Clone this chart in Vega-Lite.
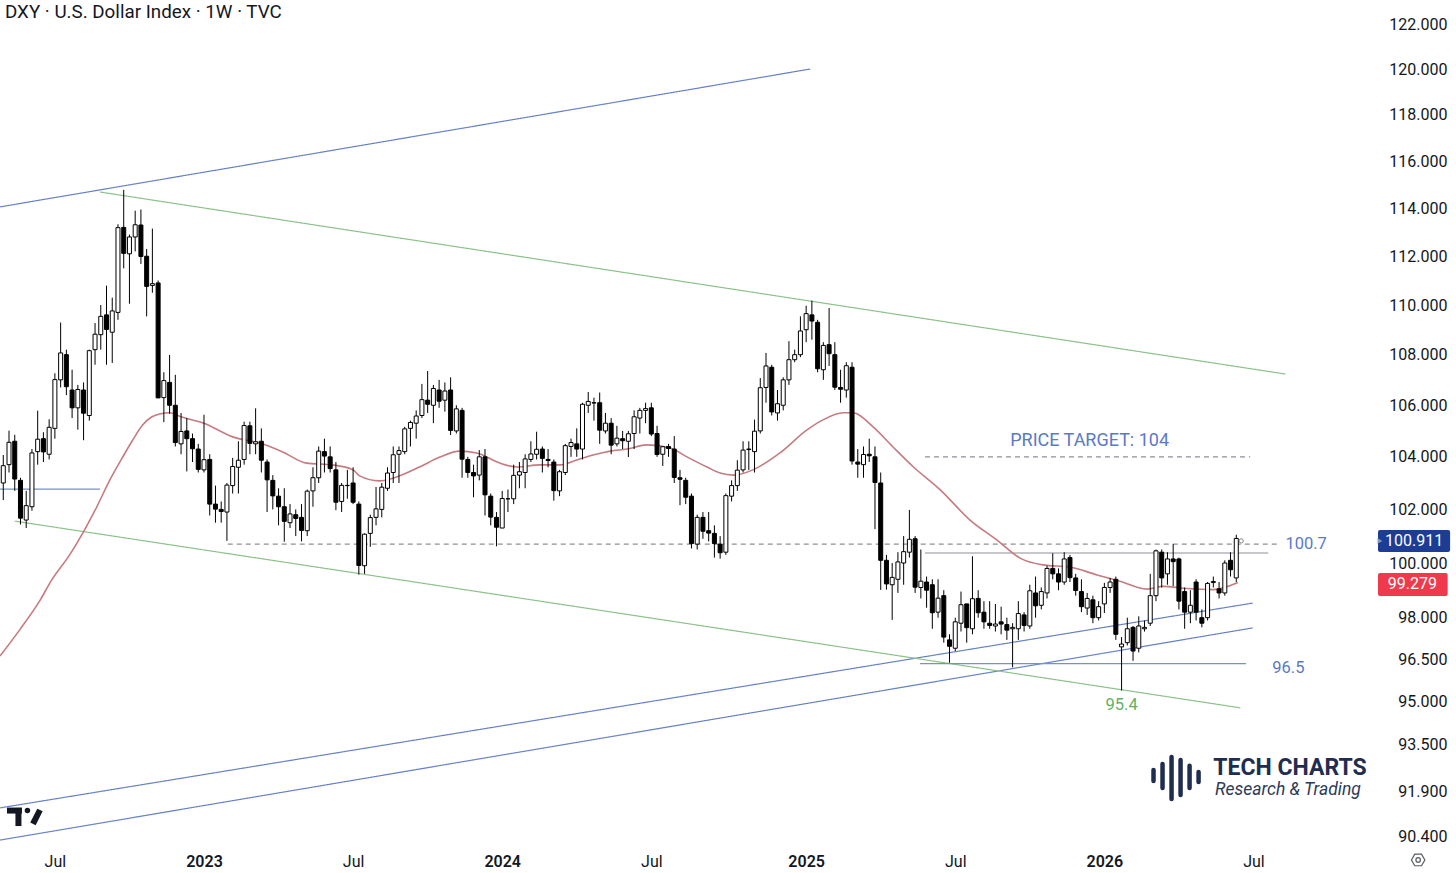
{
  "$schema": "https://vega.github.io/schema/vega-lite/v6.json",
  "width": 1378,
  "height": 847,
  "autosize": {"type": "none"},
  "padding": {"left": 0, "top": 0, "right": 78, "bottom": 26},
  "background": "#ffffff",
  "config": {"view": {"stroke": null}, "font": "Roboto"},
  "datasets": {
    "candles": [
      {"d":"2022-05-02","o":103.0,"h":104.07,"l":102.35,"c":103.66},
      {"d":"2022-05-09","o":103.7,"h":105.01,"l":103.4,"c":104.56},
      {"d":"2022-05-16","o":104.6,"h":104.85,"l":102.7,"c":103.15},
      {"d":"2022-05-23","o":103.1,"h":103.2,"l":101.43,"c":101.67},
      {"d":"2022-05-30","o":101.6,"h":102.7,"l":101.3,"c":102.14},
      {"d":"2022-06-06","o":102.1,"h":104.3,"l":101.95,"c":104.15},
      {"d":"2022-06-13","o":104.2,"h":105.79,"l":103.7,"c":104.68},
      {"d":"2022-06-20","o":104.7,"h":104.95,"l":103.8,"c":104.19},
      {"d":"2022-06-27","o":104.1,"h":105.45,"l":103.9,"c":105.14},
      {"d":"2022-07-04","o":105.1,"h":107.26,"l":104.7,"c":107.01},
      {"d":"2022-07-11","o":107.0,"h":109.29,"l":106.7,"c":108.07},
      {"d":"2022-07-18","o":108.0,"h":108.2,"l":106.4,"c":106.73},
      {"d":"2022-07-25","o":106.6,"h":107.4,"l":105.5,"c":105.9},
      {"d":"2022-08-01","o":105.9,"h":106.8,"l":105.05,"c":106.62},
      {"d":"2022-08-08","o":106.6,"h":106.9,"l":104.64,"c":105.69},
      {"d":"2022-08-15","o":105.6,"h":108.2,"l":105.4,"c":108.16},
      {"d":"2022-08-22","o":108.2,"h":109.27,"l":107.6,"c":108.82},
      {"d":"2022-08-29","o":108.8,"h":110.0,"l":108.2,"c":109.54},
      {"d":"2022-09-05","o":109.6,"h":110.79,"l":107.6,"c":109.01},
      {"d":"2022-09-12","o":108.9,"h":110.3,"l":107.67,"c":109.76},
      {"d":"2022-09-19","o":109.7,"h":113.33,"l":109.4,"c":113.19},
      {"d":"2022-09-26","o":113.2,"h":114.78,"l":111.5,"c":112.12},
      {"d":"2022-10-03","o":112.1,"h":112.9,"l":110.05,"c":112.8},
      {"d":"2022-10-10","o":112.8,"h":113.9,"l":112.2,"c":113.31},
      {"d":"2022-10-17","o":113.3,"h":113.95,"l":111.68,"c":111.99},
      {"d":"2022-10-24","o":112.0,"h":112.3,"l":109.54,"c":110.76},
      {"d":"2022-10-31","o":110.8,"h":113.15,"l":110.5,"c":110.87},
      {"d":"2022-11-07","o":110.9,"h":111.0,"l":106.28,"c":106.29},
      {"d":"2022-11-14","o":106.3,"h":107.3,"l":105.34,"c":106.97},
      {"d":"2022-11-21","o":106.9,"h":107.99,"l":105.67,"c":106.0},
      {"d":"2022-11-28","o":106.0,"h":107.2,"l":104.4,"c":104.55},
      {"d":"2022-12-05","o":104.5,"h":105.7,"l":104.1,"c":104.98},
      {"d":"2022-12-12","o":105.0,"h":105.5,"l":103.44,"c":104.7},
      {"d":"2022-12-19","o":104.7,"h":104.9,"l":103.8,"c":104.31},
      {"d":"2022-12-26","o":104.3,"h":104.5,"l":103.4,"c":103.52},
      {"d":"2023-01-02","o":103.5,"h":105.63,"l":103.4,"c":103.89},
      {"d":"2023-01-09","o":103.9,"h":104.1,"l":101.77,"c":102.2},
      {"d":"2023-01-16","o":102.2,"h":102.9,"l":101.5,"c":102.01},
      {"d":"2023-01-23","o":102.0,"h":102.3,"l":101.5,"c":101.92},
      {"d":"2023-01-30","o":101.9,"h":103.0,"l":100.82,"c":102.92},
      {"d":"2023-02-06","o":102.9,"h":103.96,"l":102.6,"c":103.63},
      {"d":"2023-02-13","o":103.6,"h":104.6,"l":102.6,"c":103.87},
      {"d":"2023-02-20","o":103.9,"h":105.36,"l":103.7,"c":105.21},
      {"d":"2023-02-27","o":105.2,"h":105.36,"l":104.1,"c":104.52},
      {"d":"2023-03-06","o":104.5,"h":105.88,"l":104.1,"c":104.58},
      {"d":"2023-03-13","o":104.6,"h":105.1,"l":103.4,"c":103.87},
      {"d":"2023-03-20","o":103.8,"h":103.9,"l":101.9,"c":103.12},
      {"d":"2023-03-27","o":103.1,"h":103.3,"l":102.0,"c":102.51},
      {"d":"2023-04-03","o":102.5,"h":102.8,"l":101.4,"c":102.1},
      {"d":"2023-04-10","o":102.1,"h":102.8,"l":100.79,"c":101.55},
      {"d":"2023-04-17","o":101.5,"h":102.2,"l":101.3,"c":101.83},
      {"d":"2023-04-24","o":101.8,"h":102.0,"l":101.0,"c":101.66},
      {"d":"2023-05-01","o":101.7,"h":102.2,"l":100.8,"c":101.21},
      {"d":"2023-05-08","o":101.2,"h":102.75,"l":101.0,"c":102.69},
      {"d":"2023-05-15","o":102.7,"h":103.6,"l":102.1,"c":103.2},
      {"d":"2023-05-22","o":103.2,"h":104.4,"l":103.0,"c":104.22},
      {"d":"2023-05-29","o":104.2,"h":104.7,"l":103.4,"c":104.03},
      {"d":"2023-06-05","o":104.0,"h":104.4,"l":103.4,"c":103.55},
      {"d":"2023-06-12","o":103.5,"h":103.8,"l":101.97,"c":102.27},
      {"d":"2023-06-19","o":102.3,"h":103.0,"l":101.9,"c":102.91},
      {"d":"2023-06-26","o":102.9,"h":103.5,"l":102.4,"c":102.91},
      {"d":"2023-07-03","o":103.0,"h":103.6,"l":102.2,"c":102.27},
      {"d":"2023-07-10","o":102.2,"h":102.3,"l":99.57,"c":99.91},
      {"d":"2023-07-17","o":99.9,"h":101.1,"l":99.6,"c":101.07},
      {"d":"2023-07-24","o":101.1,"h":101.8,"l":100.6,"c":101.69},
      {"d":"2023-07-31","o":101.7,"h":102.85,"l":101.4,"c":102.02},
      {"d":"2023-08-07","o":102.0,"h":103.0,"l":101.7,"c":102.84},
      {"d":"2023-08-14","o":102.8,"h":103.6,"l":102.7,"c":103.38},
      {"d":"2023-08-21","o":103.4,"h":104.4,"l":103.0,"c":104.08},
      {"d":"2023-08-28","o":104.1,"h":104.4,"l":103.0,"c":104.24},
      {"d":"2023-09-04","o":104.2,"h":105.16,"l":104.1,"c":105.08},
      {"d":"2023-09-11","o":105.1,"h":105.4,"l":104.4,"c":105.33},
      {"d":"2023-09-18","o":105.3,"h":105.8,"l":104.7,"c":105.58},
      {"d":"2023-09-25","o":105.6,"h":106.84,"l":105.5,"c":106.22},
      {"d":"2023-10-02","o":106.2,"h":107.35,"l":105.7,"c":106.04},
      {"d":"2023-10-09","o":106.0,"h":106.8,"l":105.3,"c":106.66},
      {"d":"2023-10-16","o":106.6,"h":107.0,"l":105.9,"c":106.16},
      {"d":"2023-10-23","o":106.2,"h":106.9,"l":105.75,"c":106.56},
      {"d":"2023-10-30","o":106.6,"h":107.1,"l":104.84,"c":105.02},
      {"d":"2023-11-06","o":105.0,"h":106.0,"l":104.9,"c":105.86},
      {"d":"2023-11-13","o":105.8,"h":105.9,"l":103.2,"c":103.91},
      {"d":"2023-11-20","o":103.9,"h":104.0,"l":103.2,"c":103.4},
      {"d":"2023-11-27","o":103.4,"h":103.7,"l":102.46,"c":103.27},
      {"d":"2023-12-04","o":103.3,"h":104.26,"l":103.1,"c":104.0},
      {"d":"2023-12-11","o":104.0,"h":104.3,"l":101.77,"c":102.55},
      {"d":"2023-12-18","o":102.5,"h":102.6,"l":101.4,"c":101.71},
      {"d":"2023-12-25","o":101.7,"h":101.9,"l":100.62,"c":101.33},
      {"d":"2024-01-01","o":101.3,"h":102.7,"l":101.3,"c":102.41},
      {"d":"2024-01-08","o":102.4,"h":102.75,"l":101.9,"c":102.4},
      {"d":"2024-01-15","o":102.4,"h":103.7,"l":102.2,"c":103.29},
      {"d":"2024-01-22","o":103.3,"h":103.8,"l":102.8,"c":103.43},
      {"d":"2024-01-29","o":103.4,"h":104.1,"l":102.8,"c":103.92},
      {"d":"2024-02-05","o":103.9,"h":104.6,"l":103.8,"c":104.11},
      {"d":"2024-02-12","o":104.1,"h":104.97,"l":103.9,"c":104.29},
      {"d":"2024-02-19","o":104.3,"h":104.4,"l":103.4,"c":103.94},
      {"d":"2024-02-26","o":103.9,"h":104.3,"l":103.6,"c":103.86},
      {"d":"2024-03-04","o":103.8,"h":103.9,"l":102.33,"c":102.71},
      {"d":"2024-03-11","o":102.7,"h":103.5,"l":102.5,"c":103.43},
      {"d":"2024-03-18","o":103.4,"h":104.5,"l":103.3,"c":104.43},
      {"d":"2024-03-25","o":104.4,"h":104.7,"l":104.0,"c":104.55},
      {"d":"2024-04-01","o":104.5,"h":105.1,"l":104.0,"c":104.3},
      {"d":"2024-04-08","o":104.3,"h":106.1,"l":103.9,"c":106.04},
      {"d":"2024-04-15","o":106.0,"h":106.52,"l":105.7,"c":106.15},
      {"d":"2024-04-22","o":106.1,"h":106.3,"l":105.4,"c":106.09},
      {"d":"2024-04-29","o":106.1,"h":106.5,"l":104.5,"c":105.03},
      {"d":"2024-05-06","o":105.0,"h":105.7,"l":104.9,"c":105.3},
      {"d":"2024-05-13","o":105.3,"h":105.5,"l":104.1,"c":104.45},
      {"d":"2024-05-20","o":104.5,"h":105.2,"l":104.4,"c":104.72},
      {"d":"2024-05-27","o":104.7,"h":105.0,"l":104.3,"c":104.62},
      {"d":"2024-06-03","o":104.6,"h":105.0,"l":103.99,"c":104.89},
      {"d":"2024-06-10","o":104.9,"h":105.8,"l":104.3,"c":105.55},
      {"d":"2024-06-17","o":105.5,"h":105.9,"l":104.9,"c":105.8},
      {"d":"2024-06-24","o":105.8,"h":106.1,"l":105.3,"c":105.87},
      {"d":"2024-07-01","o":105.9,"h":106.1,"l":104.8,"c":104.88},
      {"d":"2024-07-08","o":104.9,"h":105.2,"l":104.0,"c":104.09},
      {"d":"2024-07-15","o":104.1,"h":104.4,"l":103.65,"c":104.39},
      {"d":"2024-07-22","o":104.4,"h":104.5,"l":104.0,"c":104.32},
      {"d":"2024-07-29","o":104.3,"h":104.8,"l":103.0,"c":103.21},
      {"d":"2024-08-05","o":103.2,"h":103.5,"l":102.16,"c":103.14},
      {"d":"2024-08-12","o":103.1,"h":103.2,"l":102.2,"c":102.46},
      {"d":"2024-08-19","o":102.5,"h":102.6,"l":100.54,"c":100.72},
      {"d":"2024-08-26","o":100.7,"h":101.8,"l":100.5,"c":101.7},
      {"d":"2024-09-02","o":101.7,"h":101.9,"l":100.9,"c":101.18},
      {"d":"2024-09-09","o":101.2,"h":101.9,"l":100.8,"c":101.11},
      {"d":"2024-09-16","o":101.1,"h":101.4,"l":100.2,"c":100.72},
      {"d":"2024-09-23","o":100.7,"h":101.0,"l":100.16,"c":100.38},
      {"d":"2024-09-30","o":100.4,"h":102.6,"l":100.3,"c":102.52},
      {"d":"2024-10-07","o":102.5,"h":103.1,"l":102.3,"c":102.9},
      {"d":"2024-10-14","o":102.9,"h":103.87,"l":102.7,"c":103.49},
      {"d":"2024-10-21","o":103.5,"h":104.6,"l":103.4,"c":104.26},
      {"d":"2024-10-28","o":104.3,"h":104.6,"l":103.5,"c":104.28},
      {"d":"2024-11-04","o":104.2,"h":105.44,"l":103.4,"c":104.99},
      {"d":"2024-11-11","o":105.0,"h":107.07,"l":104.9,"c":106.69},
      {"d":"2024-11-18","o":106.7,"h":108.07,"l":106.1,"c":107.55},
      {"d":"2024-11-25","o":107.5,"h":107.6,"l":105.6,"c":105.74},
      {"d":"2024-12-02","o":105.7,"h":106.6,"l":105.4,"c":106.06},
      {"d":"2024-12-09","o":106.0,"h":107.1,"l":105.8,"c":107.0},
      {"d":"2024-12-16","o":107.0,"h":108.54,"l":106.8,"c":107.8},
      {"d":"2024-12-23","o":107.8,"h":108.2,"l":107.7,"c":108.0},
      {"d":"2024-12-30","o":108.0,"h":109.54,"l":107.9,"c":108.95},
      {"d":"2025-01-06","o":109.0,"h":109.97,"l":108.5,"c":109.65},
      {"d":"2025-01-13","o":109.6,"h":110.18,"l":108.6,"c":109.35},
      {"d":"2025-01-20","o":109.3,"h":109.4,"l":107.3,"c":107.44},
      {"d":"2025-01-27","o":107.4,"h":108.5,"l":107.0,"c":108.37},
      {"d":"2025-02-03","o":108.4,"h":109.88,"l":107.55,"c":108.04},
      {"d":"2025-02-10","o":108.0,"h":108.5,"l":106.6,"c":106.71},
      {"d":"2025-02-17","o":106.7,"h":107.4,"l":106.1,"c":106.63},
      {"d":"2025-02-24","o":106.6,"h":107.7,"l":106.3,"c":107.56},
      {"d":"2025-03-03","o":107.5,"h":107.7,"l":103.7,"c":103.84},
      {"d":"2025-03-10","o":103.8,"h":104.3,"l":103.2,"c":103.72},
      {"d":"2025-03-17","o":103.7,"h":104.4,"l":103.2,"c":104.09},
      {"d":"2025-03-24","o":104.1,"h":104.7,"l":103.8,"c":104.04},
      {"d":"2025-03-31","o":104.0,"h":104.4,"l":101.26,"c":103.02},
      {"d":"2025-04-07","o":103.0,"h":103.4,"l":99.01,"c":100.1},
      {"d":"2025-04-14","o":100.1,"h":100.3,"l":99.02,"c":99.23},
      {"d":"2025-04-21","o":99.2,"h":100.0,"l":97.92,"c":99.47},
      {"d":"2025-04-28","o":99.4,"h":100.4,"l":98.9,"c":100.04},
      {"d":"2025-05-05","o":100.0,"h":101.0,"l":99.2,"c":100.42},
      {"d":"2025-05-12","o":100.4,"h":101.98,"l":100.2,"c":100.88},
      {"d":"2025-05-19","o":100.9,"h":101.0,"l":98.9,"c":99.11},
      {"d":"2025-05-26","o":99.1,"h":100.5,"l":98.7,"c":99.33},
      {"d":"2025-06-02","o":99.3,"h":99.5,"l":98.36,"c":99.0},
      {"d":"2025-06-09","o":99.2,"h":99.4,"l":97.6,"c":98.18},
      {"d":"2025-06-16","o":98.2,"h":99.4,"l":98.0,"c":98.71},
      {"d":"2025-06-23","o":98.8,"h":99.0,"l":97.1,"c":97.3},
      {"d":"2025-06-30","o":97.2,"h":97.4,"l":96.38,"c":96.97},
      {"d":"2025-07-07","o":96.9,"h":98.0,"l":96.8,"c":97.85},
      {"d":"2025-07-14","o":97.8,"h":98.95,"l":97.5,"c":98.47},
      {"d":"2025-07-21","o":98.5,"h":98.5,"l":97.1,"c":97.64},
      {"d":"2025-07-28","o":97.6,"h":100.25,"l":97.4,"c":98.69},
      {"d":"2025-08-04","o":98.7,"h":99.0,"l":98.0,"c":98.18},
      {"d":"2025-08-11","o":98.2,"h":98.6,"l":97.6,"c":97.85},
      {"d":"2025-08-18","o":97.8,"h":98.6,"l":97.6,"c":97.72},
      {"d":"2025-08-25","o":97.7,"h":98.5,"l":97.5,"c":97.77},
      {"d":"2025-09-01","o":97.85,"h":98.4,"l":97.4,"c":97.77},
      {"d":"2025-09-08","o":97.75,"h":98.0,"l":97.2,"c":97.55},
      {"d":"2025-09-15","o":97.6,"h":97.8,"l":96.22,"c":97.65},
      {"d":"2025-09-22","o":97.6,"h":98.6,"l":97.2,"c":98.15},
      {"d":"2025-09-29","o":98.1,"h":98.2,"l":97.5,"c":97.72},
      {"d":"2025-10-06","o":97.7,"h":99.2,"l":97.6,"c":98.98},
      {"d":"2025-10-13","o":98.9,"h":99.5,"l":98.0,"c":98.43},
      {"d":"2025-10-20","o":98.45,"h":99.1,"l":98.3,"c":98.95},
      {"d":"2025-10-27","o":98.9,"h":99.9,"l":98.7,"c":99.8},
      {"d":"2025-11-03","o":99.8,"h":100.36,"l":99.4,"c":99.6},
      {"d":"2025-11-10","o":99.6,"h":99.8,"l":99.0,"c":99.3},
      {"d":"2025-11-17","o":99.3,"h":100.4,"l":99.2,"c":100.15},
      {"d":"2025-11-24","o":100.2,"h":100.3,"l":99.3,"c":99.46},
      {"d":"2025-12-01","o":99.45,"h":99.6,"l":98.8,"c":98.99},
      {"d":"2025-12-08","o":98.95,"h":99.4,"l":98.2,"c":98.4},
      {"d":"2025-12-15","o":98.35,"h":98.9,"l":98.1,"c":98.7},
      {"d":"2025-12-22","o":98.65,"h":98.8,"l":97.8,"c":98.0},
      {"d":"2025-12-29","o":98.0,"h":98.6,"l":97.9,"c":98.4},
      {"d":"2026-01-05","o":98.5,"h":99.27,"l":98.17,"c":99.1},
      {"d":"2026-01-12","o":99.1,"h":99.45,"l":98.9,"c":99.3},
      {"d":"2026-01-19","o":99.4,"h":99.5,"l":97.2,"c":97.4},
      {"d":"2026-01-26","o":96.95,"h":97.3,"l":95.4,"c":97.05},
      {"d":"2026-02-02","o":97.1,"h":98.0,"l":97.0,"c":97.6},
      {"d":"2026-02-09","o":97.65,"h":97.7,"l":96.45,"c":96.8},
      {"d":"2026-02-16","o":96.9,"h":98.05,"l":96.75,"c":97.7},
      {"d":"2026-02-23","o":97.6,"h":97.9,"l":97.5,"c":97.65},
      {"d":"2026-03-02","o":97.8,"h":99.6,"l":97.7,"c":98.8},
      {"d":"2026-03-09","o":98.8,"h":100.5,"l":98.6,"c":100.45},
      {"d":"2026-03-16","o":100.4,"h":100.5,"l":99.1,"c":99.45},
      {"d":"2026-03-23","o":99.6,"h":100.4,"l":99.2,"c":100.15},
      {"d":"2026-03-30","o":100.15,"h":100.7,"l":99.15,"c":100.05},
      {"d":"2026-04-06","o":100.15,"h":100.2,"l":98.3,"c":98.6},
      {"d":"2026-04-13","o":98.95,"h":99.1,"l":97.6,"c":98.2},
      {"d":"2026-04-20","o":98.2,"h":99.0,"l":97.8,"c":98.45},
      {"d":"2026-04-27","o":99.3,"h":99.4,"l":97.9,"c":98.2},
      {"d":"2026-05-04","o":98.0,"h":98.3,"l":97.65,"c":97.8},
      {"d":"2026-05-11","o":98.0,"h":99.3,"l":97.9,"c":99.25},
      {"d":"2026-05-18","o":99.28,"h":99.5,"l":99.1,"c":99.32},
      {"d":"2026-05-25","o":99.05,"h":99.3,"l":98.7,"c":98.9},
      {"d":"2026-06-01","o":98.9,"h":100.1,"l":98.8,"c":100.0},
      {"d":"2026-06-08","o":100.1,"h":100.4,"l":99.5,"c":99.75},
      {"d":"2026-06-15","o":99.45,"h":101.05,"l":99.3,"c":100.911}
    ],
    "ma": [
      {"d":"2022-04-28","p":96.62},{"d":"2022-05-22","p":97.56},{"d":"2022-06-16","p":98.64},
      {"d":"2022-06-30","p":99.37},{"d":"2022-07-22","p":100.3},{"d":"2022-08-07","p":101.11},
      {"d":"2022-08-24","p":102.09},{"d":"2022-09-09","p":103.11},{"d":"2022-09-24","p":103.95},
      {"d":"2022-10-07","p":104.65},{"d":"2022-10-19","p":105.23},{"d":"2022-10-30","p":105.54},
      {"d":"2022-11-09","p":105.66},{"d":"2022-11-21","p":105.71},{"d":"2022-12-06","p":105.54},
      {"d":"2023-01-01","p":105.31},{"d":"2023-02-06","p":104.77},{"d":"2023-03-11","p":104.53},
      {"d":"2023-04-08","p":104.19},{"d":"2023-05-07","p":103.76},{"d":"2023-06-08","p":103.69},
      {"d":"2023-07-03","p":103.5},{"d":"2023-07-11","p":103.27},{"d":"2023-08-04","p":103.08},
      {"d":"2023-08-25","p":103.23},{"d":"2023-09-22","p":103.61},{"d":"2023-10-17","p":103.99},
      {"d":"2023-11-10","p":104.22},{"d":"2023-12-01","p":104.15},{"d":"2023-12-29","p":103.76},
      {"d":"2024-01-19","p":103.61},{"d":"2024-02-16","p":103.69},{"d":"2024-03-12","p":103.69},
      {"d":"2024-04-01","p":103.88},{"d":"2024-04-21","p":104.07},{"d":"2024-05-12","p":104.22},
      {"d":"2024-06-01","p":104.3},{"d":"2024-06-26","p":104.46},{"d":"2024-07-24","p":104.34},
      {"d":"2024-08-14","p":103.99},{"d":"2024-09-07","p":103.61},{"d":"2024-09-23","p":103.38},
      {"d":"2024-10-09","p":103.3},{"d":"2024-11-02","p":103.5},{"d":"2024-12-05","p":104.15},
      {"d":"2025-01-07","p":105.04},{"d":"2025-01-26","p":105.42},{"d":"2025-02-20","p":105.71},
      {"d":"2025-03-04","p":105.71},{"d":"2025-03-29","p":105.15},{"d":"2025-04-22","p":104.38},
      {"d":"2025-05-17","p":103.61},{"d":"2025-06-19","p":102.73},{"d":"2025-07-25","p":101.6},
      {"d":"2025-08-27","p":100.85},{"d":"2025-09-24","p":100.18},{"d":"2025-10-22","p":99.93},
      {"d":"2025-11-24","p":99.85},{"d":"2025-12-27","p":99.56},{"d":"2026-01-24","p":99.33},
      {"d":"2026-02-26","p":99.04},{"d":"2026-03-18","p":99.14},{"d":"2026-04-16","p":99.06},
      {"d":"2026-05-18","p":99.02},{"d":"2026-06-17","p":99.279}
    ],
    "lines": [
      {"id":"ch1","role":"channel","d":"2022-04-28","p":114.06},{"id":"ch1","role":"channel","d":"2025-01-11","p":120.02},
      {"id":"ch2","role":"channel","d":"2022-04-28","p":91.35},{"id":"ch2","role":"channel","d":"2026-07-05","p":98.53},
      {"id":"ch3","role":"channel","d":"2022-04-28","p":90.27},{"id":"ch3","role":"channel","d":"2026-07-05","p":97.63},
      {"id":"w1","role":"wedge","d":"2022-08-28","p":114.69},{"id":"w1","role":"wedge","d":"2026-08-14","p":107.23},
      {"id":"w2","role":"wedge","d":"2022-05-16","p":101.56},{"id":"w2","role":"wedge","d":"2026-06-20","p":94.79},
      {"id":"s1","role":"support","d":"2022-04-28","p":102.77},{"id":"s1","role":"support","d":"2022-08-28","p":102.77},
      {"id":"s2","role":"support","d":"2025-05-25","p":96.35},{"id":"s2","role":"support","d":"2026-06-27","p":96.35},
      {"id":"r1","role":"resistance","d":"2025-05-31","p":100.37},{"id":"r1","role":"resistance","d":"2026-07-24","p":100.37},
      {"id":"t1","role":"target","d":"2023-01-31","p":100.7},{"id":"t1","role":"target","d":"2026-08-08","p":100.7},
      {"id":"t2","role":"target","d":"2025-05-31","p":104},{"id":"t2","role":"target","d":"2026-07-02","p":104}
    ]
  },
  "layer": [
    {
      "data": {"name": "lines"},
      "mark": {"type": "line", "strokeWidth": 1.2},
      "encoding": {
        "x": {"field": "d", "type": "temporal", "title": null,
              "scale": {"type": "utc", "padding": 0, "domain": [{"year":2022,"month":4,"date":28,"utc":true},{"year":2026,"month":12,"date":5,"utc":true}]},
              "axis": {"values": [{"year":2022,"month":7,"date":4,"utc":true},{"year":2023,"month":1,"date":2,"utc":true},{"year":2023,"month":7,"date":3,"utc":true},{"year":2024,"month":1,"date":1,"utc":true},{"year":2024,"month":7,"date":1,"utc":true},{"year":2025,"month":1,"date":6,"utc":true},{"year":2025,"month":7,"date":7,"utc":true},{"year":2026,"month":1,"date":5,"utc":true},{"year":2026,"month":7,"date":6,"utc":true}],
                       "labelExpr": "utcmonth(datum.value) == 6 ? 'Jul' : utcFormat(datum.value, '%Y')",
                       "domain": false, "ticks": false, "tickSize": 0, "grid": false, "labelPadding": 6,
                       "labelFontSize": 16, "labelColor": "#131722", "labelFlush": false, "labelOverlap": false, "labelBound": false,
                       "labelFontWeight": {"condition": {"test": "utcmonth(datum.value) == 0", "value": 600}, "value": 400}}},
        "y": {"field": "p", "type": "quantitative", "title": null,
              "scale": {"type": "log", "padding": 0, "domain": [90.04, 123.12], "nice": false},
              "axis": {"orient": "right", "values": [90.4, 91.9, 93.5, 95, 96.5, 98, 100, 102, 104, 106, 108, 110, 112, 114, 116, 118, 120, 122],
                       "format": ".3f", "domain": false, "ticks": false, "tickSize": 0, "grid": false,
                       "labelAlign": "right", "labelPadding": 69, "labelFontSize": 16, "labelColor": "#131722",
                       "labelOverlap": false, "labelBound": false, "labelFlush": false}},
        "detail": {"field": "id"},
        "color": {"field": "role", "type": "nominal", "legend": null,
                  "scale": {"domain": ["channel", "wedge", "support", "resistance", "target"],
                            "range": ["#6682c6", "#8cc28a", "#7890d0", "#8d9098", "#8d9098"]}},
        "strokeDash": {"field": "role", "type": "nominal", "legend": null,
                       "scale": {"domain": ["channel", "wedge", "support", "resistance", "target"],
                                 "range": [[1, 0], [1, 0], [1, 0], [1, 0], [5, 4]]}}
      }
    },
    {
      "data": {"name": "ma"},
      "mark": {"type": "line", "color": "#c67b80", "strokeWidth": 1.6, "interpolate": "monotone"},
      "encoding": {
        "x": {"field": "d", "type": "temporal", "title": null, "scale": {"type": "utc", "padding": 0, "domain": [{"year":2022,"month":4,"date":28,"utc":true},{"year":2026,"month":12,"date":5,"utc":true}]}},
        "y": {"field": "p", "type": "quantitative", "title": null, "scale": {"type": "log", "padding": 0, "domain": [90.04, 123.12], "nice": false}}
      }
    },
    {
      "data": {"name": "candles"},
      "mark": {"type": "rule", "color": "#000000", "strokeWidth": 1},
      "encoding": {
        "x": {"field": "d", "type": "temporal", "title": null, "scale": {"type": "utc", "padding": 0, "domain": [{"year":2022,"month":4,"date":28,"utc":true},{"year":2026,"month":12,"date":5,"utc":true}]}},
        "y": {"field": "l", "type": "quantitative", "title": null, "scale": {"type": "log", "padding": 0, "domain": [90.04, 123.12], "nice": false}},
        "y2": {"field": "h"}
      }
    },
    {
      "data": {"name": "candles"},
      "mark": {"type": "bar", "width": 4, "stroke": "#000000", "strokeWidth": 1},
      "encoding": {
        "x": {"field": "d", "type": "temporal", "title": null, "scale": {"type": "utc", "padding": 0, "domain": [{"year":2022,"month":4,"date":28,"utc":true},{"year":2026,"month":12,"date":5,"utc":true}]}},
        "y": {"field": "o", "type": "quantitative", "title": null, "scale": {"type": "log", "padding": 0, "domain": [90.04, 123.12], "nice": false}},
        "y2": {"field": "c"},
        "fill": {"condition": {"test": "datum.c >= datum.o", "value": "#ffffff"}, "value": "#000000"}
      }
    },
    {
      "data": {"values": [{"d": "2026-12-05", "d2": "2027-03-03", "p": 100.41, "p2": 101.23}]},
      "mark": {"type": "rect", "cornerRadius": 2, "color": "#1b3d96"},
      "encoding": {
        "x": {"field": "d", "type": "temporal", "title": null, "scale": {"type": "utc", "padding": 0, "domain": [{"year":2022,"month":4,"date":28,"utc":true},{"year":2026,"month":12,"date":5,"utc":true}]}},
        "x2": {"field": "d2"},
        "y": {"field": "p", "type": "quantitative", "title": null, "scale": {"type": "log", "padding": 0, "domain": [90.04, 123.12], "nice": false}},
        "y2": {"field": "p2"}
      }
    },
    {
      "data": {"values": [{"d": "2026-12-05", "d2": "2027-02-28", "p": 98.79, "p2": 99.63}]},
      "mark": {"type": "rect", "cornerRadius": 2, "color": "#ee3a4c"},
      "encoding": {
        "x": {"field": "d", "type": "temporal", "title": null, "scale": {"type": "utc", "padding": 0, "domain": [{"year":2022,"month":4,"date":28,"utc":true},{"year":2026,"month":12,"date":5,"utc":true}]}},
        "x2": {"field": "d2"},
        "y": {"field": "p", "type": "quantitative", "title": null, "scale": {"type": "log", "padding": 0, "domain": [90.04, 123.12], "nice": false}},
        "y2": {"field": "p2"}
      }
    },
    {
      "data": {"values": [{"d": "2026-12-07", "p": 100.82}]},
      "mark": {"type": "point", "shape": "triangle-right", "filled": true, "size": 40, "color": "#b8bcc6"},
      "encoding": {
        "x": {"field": "d", "type": "temporal", "title": null, "scale": {"type": "utc", "padding": 0, "domain": [{"year":2022,"month":4,"date":28,"utc":true},{"year":2026,"month":12,"date":5,"utc":true}]}},
        "y": {"field": "p", "type": "quantitative", "title": null, "scale": {"type": "log", "padding": 0, "domain": [90.04, 123.12], "nice": false}}
      }
    },
    {
      "data": {"values": [{"d": "2026-06-21", "p": 100.82}]},
      "mark": {"type": "point", "shape": "circle", "filled": false, "size": 18, "color": "#555555", "strokeWidth": 1},
      "encoding": {
        "x": {"field": "d", "type": "temporal", "title": null, "scale": {"type": "utc", "padding": 0, "domain": [{"year":2022,"month":4,"date":28,"utc":true},{"year":2026,"month":12,"date":5,"utc":true}]}},
        "y": {"field": "p", "type": "quantitative", "title": null, "scale": {"type": "log", "padding": 0, "domain": [90.04, 123.12], "nice": false}}
      }
    },
    {
      "data": {"values": [{"d": "2027-01-23", "p": 89.61}]},
      "mark": {"type": "point", "shape": "M-1,0L-0.5,-0.866L0.5,-0.866L1,0L0.5,0.866L-0.5,0.866Z", "filled": false, "size": 180, "color": "#131722", "strokeWidth": 1.2},
      "encoding": {
        "x": {"field": "d", "type": "temporal", "title": null, "scale": {"type": "utc", "padding": 0, "domain": [{"year":2022,"month":4,"date":28,"utc":true},{"year":2026,"month":12,"date":5,"utc":true}]}},
        "y": {"field": "p", "type": "quantitative", "title": null, "scale": {"type": "log", "padding": 0, "domain": [90.04, 123.12], "nice": false}}
      }
    },
    {
      "data": {"values": [{"d": "2027-01-23", "p": 89.61}]},
      "mark": {"type": "point", "shape": "circle", "filled": false, "size": 20, "color": "#131722", "strokeWidth": 1.2},
      "encoding": {
        "x": {"field": "d", "type": "temporal", "title": null, "scale": {"type": "utc", "padding": 0, "domain": [{"year":2022,"month":4,"date":28,"utc":true},{"year":2026,"month":12,"date":5,"utc":true}]}},
        "y": {"field": "p", "type": "quantitative", "title": null, "scale": {"type": "log", "padding": 0, "domain": [90.04, 123.12], "nice": false}}
      }
    },
    {
      "data": {"values": [
        {"d": "2026-03-06", "p": 92.64, "p2": 92.26},
        {"d": "2026-03-17", "p": 92.84, "p2": 92.02},
        {"d": "2026-03-28", "p": 93.08, "p2": 91.65},
        {"d": "2026-04-08", "p": 92.98, "p2": 91.79},
        {"d": "2026-04-19", "p": 92.78, "p2": 92.02},
        {"d": "2026-04-30", "p": 92.57, "p2": 92.23}
      ]},
      "mark": {"type": "rule", "color": "#1f2d50", "strokeWidth": 4.5, "strokeCap": "round"},
      "encoding": {
        "x": {"field": "d", "type": "temporal", "title": null, "scale": {"type": "utc", "padding": 0, "domain": [{"year":2022,"month":4,"date":28,"utc":true},{"year":2026,"month":12,"date":5,"utc":true}]}},
        "y": {"field": "p", "type": "quantitative", "title": null, "scale": {"type": "log", "padding": 0, "domain": [90.04, 123.12], "nice": false}},
        "y2": {"field": "p2"}
      }
    },
    {
      "data": {"values": [
        {"d": "2022-05-06T12:00:00Z", "d2": "2022-05-24T19:00:00Z", "p": 91.26, "p2": 91.26},
        {"d": "2022-05-20T12:00:00Z", "d2": "2022-05-20T12:00:00Z", "p": 91.35, "p2": 90.74},
        {"d": "2022-06-15T19:00:00Z", "d2": "2022-06-07T05:00:00Z", "p": 91.28, "p2": 90.81}
      ]},
      "mark": {"type": "rule", "color": "#131722", "strokeWidth": 6, "strokeCap": "butt"},
      "encoding": {
        "x": {"field": "d", "type": "temporal", "title": null, "scale": {"type": "utc", "padding": 0, "domain": [{"year":2022,"month":4,"date":28,"utc":true},{"year":2026,"month":12,"date":5,"utc":true}]}},
        "x2": {"field": "d2"},
        "y": {"field": "p", "type": "quantitative", "title": null, "scale": {"type": "log", "padding": 0, "domain": [90.04, 123.12], "nice": false}},
        "y2": {"field": "p2"}
      }
    },
    {
      "data": {"values": [{"d": "2022-05-31T12:00:00Z", "p": 91.26}]},
      "mark": {"type": "point", "shape": "circle", "filled": true, "size": 30, "color": "#131722", "opacity": 1},
      "encoding": {
        "x": {"field": "d", "type": "temporal", "title": null, "scale": {"type": "utc", "padding": 0, "domain": [{"year":2022,"month":4,"date":28,"utc":true},{"year":2026,"month":12,"date":5,"utc":true}]}},
        "y": {"field": "p", "type": "quantitative", "title": null, "scale": {"type": "log", "padding": 0, "domain": [90.04, 123.12], "nice": false}}
      }
    },
    {
      "data": {"values": [{"d": "2022-04-28", "p": 122.57, "t": "DXY · U.S. Dollar Index · 1W · TVC"}]},
      "mark": {"type": "text", "align": "left", "baseline": "middle", "dx": 5, "fontSize": 18.8, "color": "#131722"},
      "encoding": {
        "x": {"field": "d", "type": "temporal", "title": null, "scale": {"type": "utc", "padding": 0, "domain": [{"year":2022,"month":4,"date":28,"utc":true},{"year":2026,"month":12,"date":5,"utc":true}]}},
        "y": {"field": "p", "type": "quantitative", "title": null, "scale": {"type": "log", "padding": 0, "domain": [90.04, 123.12], "nice": false}},
        "text": {"field": "t"}
      }
    },
    {
      "data": {"values": [{"d": "2025-12-18", "p": 104.61, "t": "PRICE TARGET: 104"}]},
      "mark": {"type": "text", "align": "center", "baseline": "middle", "fontSize": 18, "color": "#5a79c6"},
      "encoding": {
        "x": {"field": "d", "type": "temporal", "title": null, "scale": {"type": "utc", "padding": 0, "domain": [{"year":2022,"month":4,"date":28,"utc":true},{"year":2026,"month":12,"date":5,"utc":true}]}},
        "y": {"field": "p", "type": "quantitative", "title": null, "scale": {"type": "log", "padding": 0, "domain": [90.04, 123.12], "nice": false}},
        "text": {"field": "t"}
      }
    },
    {
      "data": {"values": [
        {"d": "2026-08-14", "p": 100.7, "t": "100.7"},
        {"d": "2026-07-29", "p": 96.2, "t": "96.5"}
      ]},
      "mark": {"type": "text", "align": "left", "baseline": "middle", "fontSize": 16.5, "color": "#5a79c6"},
      "encoding": {
        "x": {"field": "d", "type": "temporal", "title": null, "scale": {"type": "utc", "padding": 0, "domain": [{"year":2022,"month":4,"date":28,"utc":true},{"year":2026,"month":12,"date":5,"utc":true}]}},
        "y": {"field": "p", "type": "quantitative", "title": null, "scale": {"type": "log", "padding": 0, "domain": [90.04, 123.12], "nice": false}},
        "text": {"field": "t"}
      }
    },
    {
      "data": {"values": [{"d": "2026-01-26", "p": 94.89, "t": "95.4"}]},
      "mark": {"type": "text", "align": "center", "baseline": "middle", "fontSize": 16.5, "color": "#62b064"},
      "encoding": {
        "x": {"field": "d", "type": "temporal", "title": null, "scale": {"type": "utc", "padding": 0, "domain": [{"year":2022,"month":4,"date":28,"utc":true},{"year":2026,"month":12,"date":5,"utc":true}]}},
        "y": {"field": "p", "type": "quantitative", "title": null, "scale": {"type": "log", "padding": 0, "domain": [90.04, 123.12], "nice": false}},
        "text": {"field": "t"}
      }
    },
    {
      "data": {"values": [
        {"d": "2027-01-18", "p": 100.82, "t": "100.911"},
        {"d": "2027-01-16", "p": 99.21, "t": "99.279"}
      ]},
      "mark": {"type": "text", "align": "center", "baseline": "middle", "fontSize": 16, "color": "#ffffff"},
      "encoding": {
        "x": {"field": "d", "type": "temporal", "title": null, "scale": {"type": "utc", "padding": 0, "domain": [{"year":2022,"month":4,"date":28,"utc":true},{"year":2026,"month":12,"date":5,"utc":true}]}},
        "y": {"field": "p", "type": "quantitative", "title": null, "scale": {"type": "log", "padding": 0, "domain": [90.04, 123.12], "nice": false}},
        "text": {"field": "t"}
      }
    },
    {
      "data": {"values": [{"d": "2026-05-18", "p": 92.71, "t": "TECH CHARTS"}]},
      "mark": {"type": "text", "align": "left", "baseline": "middle", "fontSize": 23, "fontWeight": "bold", "color": "#1f2d50"},
      "encoding": {
        "x": {"field": "d", "type": "temporal", "title": null, "scale": {"type": "utc", "padding": 0, "domain": [{"year":2022,"month":4,"date":28,"utc":true},{"year":2026,"month":12,"date":5,"utc":true}]}},
        "y": {"field": "p", "type": "quantitative", "title": null, "scale": {"type": "log", "padding": 0, "domain": [90.04, 123.12], "nice": false}},
        "text": {"field": "t"}
      }
    },
    {
      "data": {"values": [{"d": "2026-05-20", "p": 91.96, "t": "Research & Trading"}]},
      "mark": {"type": "text", "align": "left", "baseline": "middle", "fontSize": 17.5, "fontStyle": "italic", "color": "#2d3a58"},
      "encoding": {
        "x": {"field": "d", "type": "temporal", "title": null, "scale": {"type": "utc", "padding": 0, "domain": [{"year":2022,"month":4,"date":28,"utc":true},{"year":2026,"month":12,"date":5,"utc":true}]}},
        "y": {"field": "p", "type": "quantitative", "title": null, "scale": {"type": "log", "padding": 0, "domain": [90.04, 123.12], "nice": false}},
        "text": {"field": "t"}
      }
    }
  ]
}
